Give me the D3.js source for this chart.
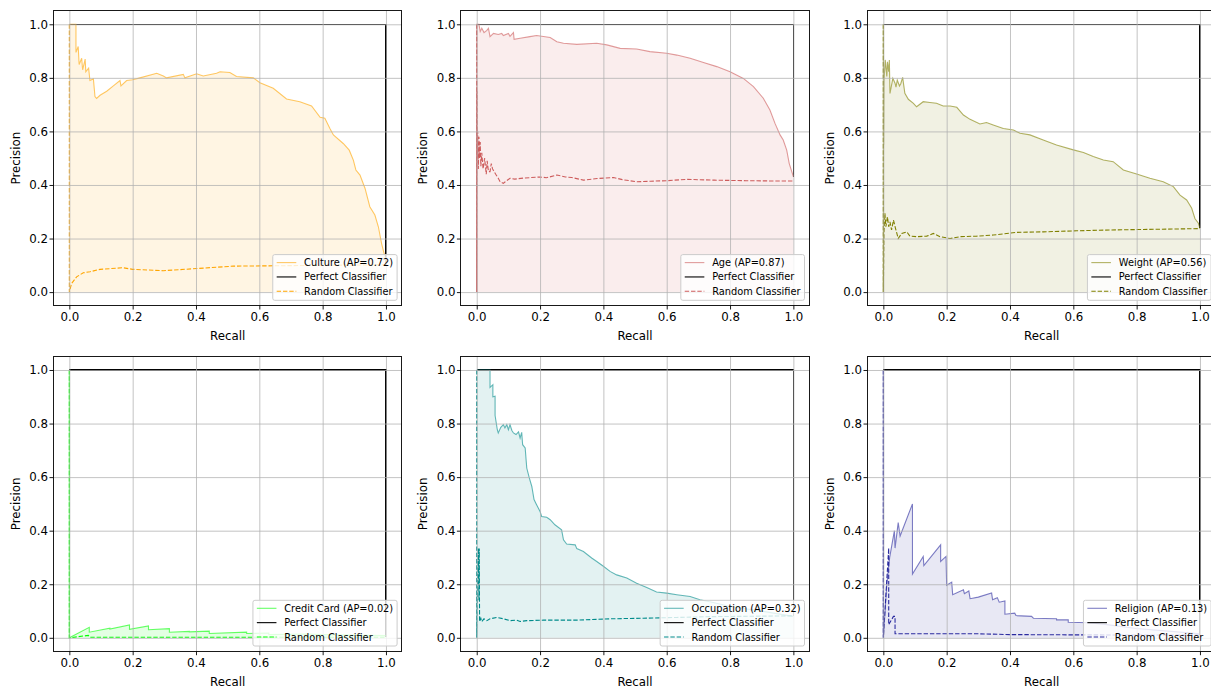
<!DOCTYPE html>
<html><head><meta charset="utf-8">
<script src="https://cdn.jsdelivr.net/npm/d3@7"></script>
<style>body{margin:0;background:#fff} svg{display:block} text{font-family:"DejaVu Sans",sans-serif;fill:#000}</style>
</head><body><svg id="c" width="1211" height="688"></svg>
<script>
// ---------- data ----------
const categories = ["Culture", "Age", "Weight", "Credit Card", "Occupation", "Religion"];
const apValues = [0.72, 0.87, 0.56, 0.02, 0.32, 0.13];
const prevalence = [0.1, 0.43, 0.238, 0.002, 0.08, 0.01];
const seriesColors = ["orange", "indianred", "olive", "lime", "darkcyan", "#2a2a9f"];
const tickValues = [0, 0.2, 0.4, 0.6, 0.8, 1.0];
const tickLabels = ["0.0", "0.2", "0.4", "0.6", "0.8", "1.0"];

const cultureCurve = [[0,1],[0.021,1.0],[0.021,0.895],[0.028,0.917],[0.031,0.85],[0.039,0.873],[0.042,0.83],[0.05,0.87],[0.052,0.823],[0.061,0.836],[0.065,0.79],[0.076,0.796],[0.081,0.73],[0.086,0.723],[0.097,0.735],[0.118,0.75],[0.139,0.77],[0.16,0.79],[0.163,0.77],[0.181,0.79],[0.2,0.793],[0.223,0.80],[0.276,0.817],[0.297,0.807],[0.307,0.80],[0.36,0.813],[0.365,0.80],[0.402,0.815],[0.423,0.807],[0.465,0.817],[0.476,0.823],[0.507,0.82],[0.528,0.805],[0.581,0.80],[0.602,0.782],[0.644,0.761],[0.686,0.721],[0.728,0.711],[0.765,0.695],[0.792,0.653],[0.807,0.649],[0.823,0.611],[0.834,0.587],[0.865,0.555],[0.884,0.53],[0.897,0.493],[0.905,0.456],[0.918,0.437],[0.934,0.387],[0.949,0.319],[0.965,0.288],[0.976,0.244],[0.986,0.182],[0.994,0.145],[0.998,0.13],[1.0,0.1]];
const cultureRandom = [[0,1],[0,0],[0.007,0.032],[0.023,0.057],[0.044,0.072],[0.065,0.076],[0.097,0.085],[0.17,0.091],[0.2,0.085],[0.297,0.08],[0.402,0.088],[0.518,0.097],[0.623,0.098],[0.8,0.1],[1.0,0.102]];

const ageCurve = [[0,0],[0,1],[0.007,1.0],[0.011,0.973],[0.016,0.985],[0.023,0.969],[0.032,0.977],[0.037,0.985],[0.042,0.954],[0.053,0.966],[0.068,0.962],[0.079,0.966],[0.084,0.958],[0.1,0.966],[0.105,0.955],[0.116,0.969],[0.118,0.944],[0.137,0.948],[0.168,0.954],[0.189,0.958],[0.232,0.951],[0.253,0.935],[0.274,0.929],[0.316,0.925],[0.379,0.929],[0.411,0.923],[0.453,0.91],[0.505,0.908],[0.547,0.898],[0.6,0.892],[0.632,0.885],[0.674,0.873],[0.716,0.857],[0.758,0.842],[0.8,0.823],[0.842,0.798],[0.874,0.767],[0.905,0.724],[0.926,0.68],[0.942,0.63],[0.958,0.587],[0.968,0.568],[0.979,0.53],[0.987,0.48],[0.995,0.45],[1.0,0.431]];
const ageRandom = [[0,1],[0,0],[0.001,0.75],[0.002,0.5],[0.003,0.6],[0.005,0.46],[0.007,0.58],[0.009,0.5],[0.011,0.56],[0.013,0.47],[0.016,0.52],[0.02,0.46],[0.025,0.5],[0.03,0.44],[0.033,0.49],[0.037,0.45],[0.042,0.45],[0.046,0.48],[0.05,0.46],[0.06,0.44],[0.068,0.425],[0.074,0.412],[0.084,0.406],[0.09,0.412],[0.105,0.425],[0.12,0.422],[0.15,0.426],[0.2,0.43],[0.22,0.427],[0.253,0.437],[0.28,0.43],[0.3,0.428],[0.337,0.418],[0.38,0.424],[0.432,0.428],[0.46,0.42],[0.505,0.412],[0.55,0.414],[0.6,0.416],[0.663,0.421],[0.75,0.418],[0.85,0.416],[0.93,0.415],[1.0,0.415]];

const weightCurve = [[0,0],[0,1],[0.001,0.55],[0.002,0.79],[0.006,0.867],[0.011,0.805],[0.013,0.86],[0.017,0.823],[0.019,0.867],[0.021,0.742],[0.03,0.798],[0.037,0.78],[0.04,0.765],[0.044,0.792],[0.051,0.77],[0.055,0.778],[0.061,0.802],[0.068,0.742],[0.079,0.72],[0.095,0.705],[0.105,0.692],[0.126,0.711],[0.147,0.708],[0.168,0.705],[0.189,0.695],[0.211,0.695],[0.232,0.69],[0.253,0.661],[0.274,0.645],[0.305,0.628],[0.326,0.633],[0.347,0.624],[0.379,0.611],[0.411,0.605],[0.432,0.593],[0.463,0.587],[0.505,0.568],[0.547,0.549],[0.6,0.531],[0.632,0.521],[0.663,0.506],[0.695,0.493],[0.726,0.487],[0.758,0.456],[0.8,0.441],[0.842,0.425],[0.884,0.412],[0.916,0.394],[0.937,0.362],[0.958,0.344],[0.974,0.313],[0.984,0.275],[0.995,0.257],[1.0,0.238]];
const weightRandom = [[0,1],[0,0],[0.002,0.219],[0.005,0.294],[0.008,0.244],[0.013,0.281],[0.017,0.244],[0.021,0.262],[0.026,0.232],[0.032,0.269],[0.038,0.24],[0.047,0.2],[0.058,0.219],[0.074,0.225],[0.084,0.209],[0.105,0.207],[0.137,0.209],[0.158,0.219],[0.179,0.207],[0.211,0.2],[0.242,0.207],[0.295,0.209],[0.347,0.213],[0.421,0.223],[0.505,0.225],[0.611,0.229],[0.716,0.232],[0.821,0.234],[1.0,0.237]];

const creditCurve = [[0,1],[0,0],[0.063,0.039],[0.063,0.021],[0.128,0.036],[0.128,0.033],[0.19,0.048],[0.19,0.032],[0.25,0.044],[0.25,0.030],[0.316,0.034],[0.316,0.021],[0.379,0.024],[0.379,0.022],[0.442,0.025],[0.442,0.016],[0.56,0.021],[0.56,0.016],[0.63,0.018],[0.63,0.012],[0.75,0.014],[0.8,0.012],[1.0,0.008]];
const creditRandom = [[0,1],[0,0],[0.06,0.009],[0.065,0.002],[1.0,0.002]];

const occupationCurve = [[0,1],[0.042,1.0],[0.042,0.935],[0.051,0.945],[0.051,0.90],[0.058,0.902],[0.058,0.83],[0.065,0.777],[0.068,0.765],[0.076,0.786],[0.084,0.796],[0.089,0.784],[0.095,0.796],[0.1,0.777],[0.105,0.796],[0.111,0.774],[0.116,0.765],[0.124,0.759],[0.132,0.769],[0.137,0.746],[0.142,0.767],[0.145,0.721],[0.153,0.709],[0.158,0.634],[0.166,0.597],[0.174,0.565],[0.181,0.516],[0.189,0.497],[0.2,0.472],[0.205,0.453],[0.221,0.45],[0.232,0.441],[0.247,0.422],[0.268,0.403],[0.274,0.366],[0.284,0.35],[0.311,0.347],[0.316,0.333],[0.337,0.322],[0.363,0.298],[0.379,0.285],[0.4,0.267],[0.421,0.248],[0.442,0.235],[0.474,0.223],[0.505,0.204],[0.537,0.188],[0.568,0.171],[0.6,0.167],[0.632,0.161],[0.674,0.154],[0.705,0.142],[0.747,0.132],[0.8,0.117],[0.85,0.108],[0.9,0.1],[1.0,0.08]];
const occupationRandom = [[0,1],[0,0],[0.002,0.16],[0.005,0.335],[0.007,0.14],[0.008,0.333],[0.009,0.06],[0.013,0.073],[0.016,0.061],[0.023,0.071],[0.032,0.064],[0.042,0.071],[0.063,0.076],[0.084,0.071],[0.105,0.064],[0.126,0.066],[0.137,0.061],[0.158,0.064],[0.211,0.066],[0.316,0.066],[0.421,0.071],[0.526,0.073],[0.632,0.076],[0.737,0.079],[1.0,0.082]];

const religionCurve = [[0,1],[0,0],[0.011,0.2],[0.02,0.3],[0.027,0.347],[0.035,0.4],[0.037,0.335],[0.047,0.43],[0.053,0.38],[0.092,0.5],[0.092,0.238],[0.126,0.304],[0.128,0.27],[0.181,0.347],[0.181,0.285],[0.198,0.304],[0.2,0.196],[0.216,0.208],[0.219,0.161],[0.253,0.179],[0.256,0.165],[0.27,0.175],[0.274,0.146],[0.3,0.152],[0.342,0.167],[0.345,0.142],[0.36,0.15],[0.366,0.133],[0.384,0.138],[0.384,0.088],[0.415,0.092],[0.419,0.083],[0.468,0.080],[0.474,0.073],[0.547,0.071],[0.547,0.067],[0.584,0.067],[0.584,0.058],[0.65,0.056],[0.7,0.05],[0.8,0.035],[0.9,0.025],[1.0,0.015]];
const religionRandom = [[0,1],[0,0],[0.017,0.335],[0.017,0.049],[0.032,0.08],[0.037,0.08],[0.037,0.015],[0.1,0.015],[0.3,0.015],[0.4,0.012],[0.6,0.011],[1.0,0.01]];

const curves = [cultureCurve, ageCurve, weightCurve, creditCurve, occupationCurve, religionCurve];
const randoms = [cultureRandom, ageRandom, weightRandom, creditRandom, occupationRandom, religionRandom];

// ---------- layout ----------
const svg = d3.select("#c");
const colLeft = [53.5, 460.9, 867.5];
const rowTop = [10.9, 356.6];
const W = 348.3, H = 294.6;
const fs = 11.8, lfs = 9.8;

categories.forEach((cat, i) => {
  const col = i % 3, row = Math.floor(i / 3);
  const L = colLeft[col], T = rowTop[row];
  const x = d3.scaleLinear().domain([-0.05, 1.05]).range([L, L + W]);
  const y = d3.scaleLinear().domain([-0.05, 1.05]).range([T + H, T]);
  const color = seriesColors[i];
  const g = svg.append("g");
  const clipId = "clip" + i;
  svg.append("clipPath").attr("id", clipId).append("rect").attr("x", L).attr("y", T).attr("width", W).attr("height", H);
  const plot = g.append("g").attr("clip-path", `url(#${clipId})`);

  // fill
  const area = d3.area().x(d => x(d[0])).y0(y(0)).y1(d => y(d[1]));
  plot.append("path").datum(curves[i]).attr("d", area).attr("fill", color).attr("fill-opacity", 0.11).attr("stroke", "none");

  // grid
  const gridX = d3.axisBottom(x).tickValues(tickValues).tickSize(-H).tickFormat("");
  const gridY = d3.axisLeft(y).tickValues(tickValues).tickSize(-W).tickFormat("");
  const gx = g.append("g").attr("transform", `translate(0,${T + H})`).call(gridX);
  const gy = g.append("g").attr("transform", `translate(${L},0)`).call(gridY);
  [gx, gy].forEach(a => { a.select(".domain").remove(); a.selectAll("line").attr("stroke", "#b0b0b0").attr("stroke-width", 0.9).attr("stroke-opacity", 0.85); });

  const line = d3.line().x(d => x(d[0])).y(d => y(d[1]));
  // perfect classifier
  plot.append("path").datum([[0, 1], [1, 1], [1, prevalence[i]]]).attr("d", line)
    .attr("fill", "none").attr("stroke", "#000").attr("stroke-width", 1.1).attr("shape-rendering", "crispEdges");
  // random classifier
  plot.append("path").datum(randoms[i]).attr("d", line)
    .attr("fill", "none").attr("stroke", color).attr("stroke-width", 1.1).attr("stroke-dasharray", "4.4,1.9");
  // main curve
  plot.append("path").datum(curves[i]).attr("d", line)
    .attr("fill", "none").attr("stroke", color).attr("stroke-width", 1.1).attr("stroke-opacity", 0.6);

  // axes
  const ax = d3.axisBottom(x).tickValues(tickValues).tickFormat((d, k) => tickLabels[k]).tickSize(4).tickPadding(3);
  const ay = d3.axisLeft(y).tickValues(tickValues).tickFormat((d, k) => tickLabels[k]).tickSize(4).tickPadding(1.5);
  const axg = g.append("g").attr("transform", `translate(0,${T + H})`).call(ax);
  const ayg = g.append("g").attr("transform", `translate(${L},0)`).call(ay);
  [axg, ayg].forEach(a => {
    a.select(".domain").remove();
    a.selectAll("line").attr("stroke", "#000").attr("stroke-width", 0.9);
    a.selectAll("text").attr("font-size", fs).attr("font-family", "DejaVu Sans").attr("fill", "#000");
  });
  // spines
  g.append("rect").attr("x", L).attr("y", T).attr("width", W).attr("height", H)
    .attr("fill", "none").attr("stroke", "#000").attr("stroke-width", 0.9).attr("shape-rendering", "crispEdges");

  // labels
  g.append("text").attr("x", L + W / 2).attr("y", T + H + 34.5).attr("text-anchor", "middle")
    .attr("font-size", fs).text("Recall");
  g.append("text").attr("transform", `translate(${L - 34},${T + H / 2}) rotate(-90)`).attr("text-anchor", "middle")
    .attr("font-size", fs).text("Precision");

  // legend
  const labels = [`${cat} (AP=${apValues[i].toFixed(2)})`, "Perfect Classifier", "Random Classifier"];
  const lg = g.append("g");
  const frame = lg.append("rect");
  const texts = labels.map(t => lg.append("text").attr("font-size", lfs).text(t));
  const tw = d3.max(texts, t => t.node().getComputedTextLength());
  const pad = 0.4 * lfs, hl = 2 * lfs, htp = 0.8 * lfs, rowH = 14.35;
  const bw = pad + hl + htp + tw + pad;
  const bh = 45.7;
  const bx = L + W - 4.7 - bw, by = T + H - 5.2 - bh;
  frame.attr("x", bx).attr("y", by).attr("width", bw).attr("height", bh).attr("rx", 2)
    .attr("fill", "#fff").attr("fill-opacity", 0.8).attr("stroke", "#cccccc").attr("stroke-width", 1);
  const styles = [
    {c: color, o: 0.6, d: null},
    {c: "#000", o: 1, d: null},
    {c: color, o: 1, d: "4.4,1.9"}
  ];
  texts.forEach((t, k) => {
    const cy = by + 8 + k * rowH;
    t.attr("x", bx + pad + hl + htp).attr("y", cy).attr("dy", "0.36em");
    const l = lg.append("line").attr("x1", bx + pad).attr("x2", bx + pad + hl).attr("y1", cy).attr("y2", cy)
      .attr("stroke", styles[k].c).attr("stroke-opacity", styles[k].o).attr("stroke-width", 1.1);
    if (styles[k].d) l.attr("stroke-dasharray", styles[k].d);
  });
});
</script></body></html>
